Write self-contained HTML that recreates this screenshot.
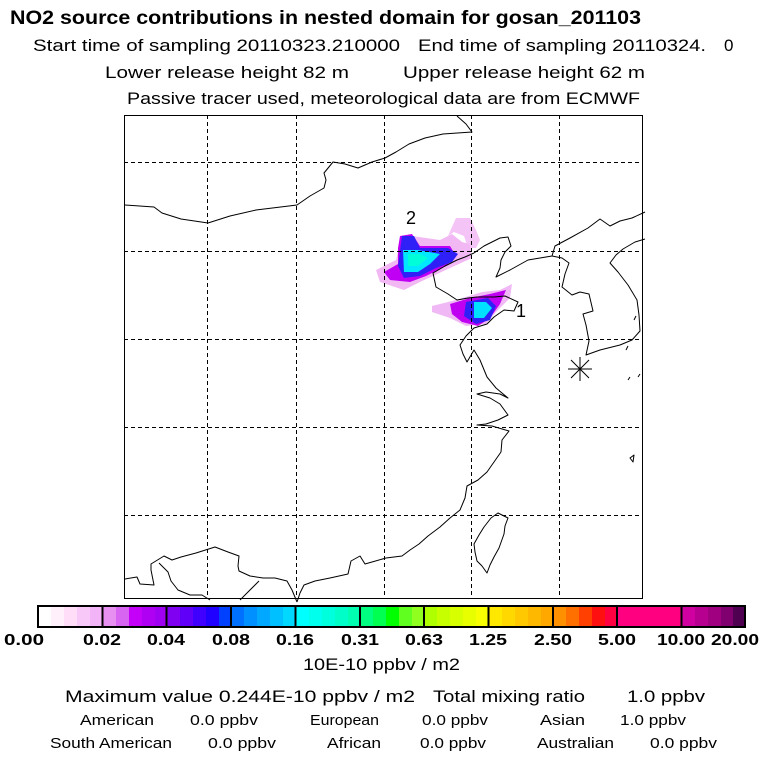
<!DOCTYPE html>
<html><head><meta charset="utf-8"><style>
html,body{margin:0;padding:0;background:#fff;}
svg{display:block;font-family:"Liberation Sans",sans-serif;}
</style></head><body>
<svg width="768" height="768" viewBox="0 0 768 768" xmlns="http://www.w3.org/2000/svg">
<rect width="768" height="768" fill="#fff"/>
<g fill="#000">
<text x="10" y="24" font-size="19" font-weight="bold" textLength="631" lengthAdjust="spacingAndGlyphs">NO2 source contributions in nested domain for gosan_201103</text>
<text x="33" y="51" font-size="17" textLength="367" lengthAdjust="spacingAndGlyphs">Start time of sampling 20110323.210000</text>
<text x="418" y="51" font-size="17" textLength="288" lengthAdjust="spacingAndGlyphs">End time of sampling 20110324.</text>
<text x="724" y="51" font-size="17">0</text>
<text x="105" y="78" font-size="17" textLength="244" lengthAdjust="spacingAndGlyphs">Lower release height   82 m</text>
<text x="403" y="78" font-size="17" textLength="242" lengthAdjust="spacingAndGlyphs">Upper release height   62 m</text>
<text x="127" y="104" font-size="17" textLength="513" lengthAdjust="spacingAndGlyphs">Passive tracer used, meteorological data are from ECMWF</text>
</g>

<!-- plumes -->
<g>
<polygon points="456,218 470,218 476,230 480,240 476,248 468,248 464,236 454,232 448,236" fill="#f4c4f6"/>
<polygon points="412,236 440,240 452,234 462,242 470,244 472,258 450,268 420,282 404,290 380,282 376,270 396,260 400,244" fill="#f2b8f4"/>
<polygon points="400,236 412,234 420,246 450,246 456,256 446,266 426,276 410,282 390,280 384,272 398,264 398,248" fill="#c000f4"/>
<polygon points="402,236 414,236 420,248 448,248 458,254 452,262 436,268 420,276 404,278 398,266" fill="#3020f8"/>
<polygon points="403,250 418,250 440,254 430,264 418,272 404,272" fill="#00e8ff"/>
<polygon points="408,254 420,254 428,258 418,266 408,266" fill="#00ffd8"/>
<polygon points="432,306 456,300 482,292 500,290 512,284 510,298 496,312 486,324 466,326 450,318 432,312" fill="#f0b8f4"/>
<polygon points="450,304 470,298 490,294 506,290 500,304 490,318 478,326 462,322 452,314" fill="#c000f0"/>
<polygon points="466,302 488,298 496,306 490,320 476,324 464,316" fill="#3020f8"/>
<polygon points="474,302 486,302 492,308 484,318 474,318" fill="#00e0ff"/>
</g>

<!-- grid -->
<g stroke="#000" stroke-width="1" stroke-dasharray="4,3" fill="none">
<path d="M207.5 115V598M296.5 115V598M384.5 115V598M471.5 115V598M559.5 115V598"/>
<path d="M124 162.5H642M124 251.5H642M124 339.5H642M124 427.5H642M124 515.5H642"/>
</g>

<!-- coastlines -->
<g stroke="#000" stroke-width="1" fill="none" stroke-linejoin="round">
<path d="M125,205 L154,207 L162,213 L181,219 L208,223 L230,216 L256,210 L297,205 L310,196 L324,188 L326,180 L324,173 L333,162 L345,164 L358,168 L372,162 L385,158 L396,152 L409,144 L425,138 L443,134 L472,132 L466,124 L457,116"/>
<path d="M474,253 L484,246 L494,241 L500,238 L508,237 L511,246 L505,252 L501,260 L500,268 L496,277 L510,270 L528,260 L552,256 L555,246 L570,238 L588,228 L600,219 L610,226 L620,221 L632,218 L645,212"/>
<path d="M552,256 L562,258 L569,263 L565,274 L562,287 L572,295 L580,292 L589,294 L593,311 L583,314 L586,325 L589,341 L586,355 L600,350 L620,345 L632,340 L640,331 L639,315 L637,300 L628,285 L618,272 L610,263 L616,255 L623,249 L635,242 L645,239"/>
<path d="M474,253 L465,257 L457,260 L445,266 L433,273 L436,287 L448,294 L457,300 L468,298 L477,297 L494,297 L505,296 L518,302 L514,311 L504,310 L494,317 L487,324 L474,328 L466,336 L460,345 L463,354 L467,362 L474,350 L480,360 L487,377 L496,388 L508,398 L500,394 L486,392 L477,394 L490,398 L500,404 L508,415 L498,420 L486,424 L477,425 L492,426 L509,431 L502,440 L501,452 L494,462 L487,472 L478,480 L467,486 L465,498 L460,510 L450,518 L440,527 L428,536 L419,544 L410,550 L402,556 L386,558 L372,562 L365,564 L360,556 L351,561 L348,574 L330,578 L315,581 L304,585 L300,593 L297,602"/>
<path d="M125,579 L137,577 L140,584 L154,585 L151,570 L151,564 L164,556 L172,560 L181,557 L196,553 L215,547 L228,552 L239,556 L238,566 L239,571 L250,576 L263,578 L275,578 L287,581 L292,590 L297,602"/>
<path d="M159,563 L168,572 L171,581 L178,590 L190,595 L202,595 L210,600"/>
<path d="M259,581 L248,592 L240,600"/>
<path d="M498,513 L508,518 L505,526 L504,534 L499,548 L494,557 L490,565 L487,573 L482,566 L477,561 L475,552 L474,544 L479,535 L484,527 L491,518 Z"/>
<path d="M630,458 L634,455 L633,462 Z M638,377 L640,374 M628,380 L630,377 M634,320 L636,316 M626,350 L628,346"/>
</g>
<g stroke="#000" stroke-width="1">
<path d="M568,369 L592,369 M580,357 L580,381 M571,360 L589,378 M571,378 L589,360"/>
</g>
<rect x="124.5" y="115.5" width="518" height="483" fill="none" stroke="#000" stroke-width="1"/>
<text x="406" y="224" font-size="18" fill="#000">2</text>
<text x="516" y="317" font-size="18" fill="#000">1</text>

<!-- colorbar -->
<g shape-rendering="crispEdges">
<rect x="38" y="606" width="13" height="21" fill="#ffffff"/><rect x="51" y="606" width="13" height="21" fill="#fff0fc"/><rect x="64" y="606" width="13" height="21" fill="#ffdcf8"/><rect x="77" y="606" width="13" height="21" fill="#f8c8f8"/><rect x="90" y="606" width="13" height="21" fill="#f2b4f6"/>
<rect x="103" y="606" width="13" height="21" fill="#e890f2"/><rect x="116" y="606" width="13" height="21" fill="#d864f2"/><rect x="129" y="606" width="13" height="21" fill="#c400f8"/><rect x="142" y="606" width="13" height="21" fill="#b000f4"/><rect x="155" y="606" width="12" height="21" fill="#a000f2"/>
<rect x="167" y="606" width="13" height="21" fill="#8000f2"/><rect x="180" y="606" width="13" height="21" fill="#6000f8"/><rect x="193" y="606" width="13" height="21" fill="#4000ff"/><rect x="206" y="606" width="13" height="21" fill="#2000ff"/><rect x="219" y="606" width="12" height="21" fill="#0040ff"/>
<rect x="231" y="606" width="13" height="21" fill="#0070ff"/><rect x="244" y="606" width="13" height="21" fill="#0090ff"/><rect x="257" y="606" width="13" height="21" fill="#00a8ff"/><rect x="270" y="606" width="13" height="21" fill="#00c0ff"/><rect x="283" y="606" width="13" height="21" fill="#00d8ff"/>
<rect x="296" y="606" width="13" height="21" fill="#00ffff"/><rect x="309" y="606" width="13" height="21" fill="#00ffec"/><rect x="322" y="606" width="13" height="21" fill="#00ffdc"/><rect x="335" y="606" width="13" height="21" fill="#00ffc8"/><rect x="348" y="606" width="12" height="21" fill="#00ffb0"/>
<rect x="360" y="606" width="13" height="21" fill="#00ff80"/><rect x="373" y="606" width="13" height="21" fill="#00ff50"/><rect x="386" y="606" width="13" height="21" fill="#00ff00"/><rect x="399" y="606" width="13" height="21" fill="#60ff20"/><rect x="412" y="606" width="12" height="21" fill="#90ff20"/>
<rect x="424" y="606" width="13" height="21" fill="#b0ff00"/><rect x="437" y="606" width="13" height="21" fill="#c8ff00"/><rect x="450" y="606" width="13" height="21" fill="#d8ff00"/><rect x="463" y="606" width="13" height="21" fill="#e8ff00"/><rect x="476" y="606" width="13" height="21" fill="#f8ff00"/>
<rect x="489" y="606" width="13" height="21" fill="#ffe800"/><rect x="502" y="606" width="13" height="21" fill="#ffd800"/><rect x="515" y="606" width="13" height="21" fill="#ffc800"/><rect x="528" y="606" width="13" height="21" fill="#ffb800"/><rect x="541" y="606" width="12" height="21" fill="#ffa800"/>
<rect x="553" y="606" width="13" height="21" fill="#ff9000"/><rect x="566" y="606" width="13" height="21" fill="#ff7000"/><rect x="579" y="606" width="13" height="21" fill="#ff4000"/><rect x="592" y="606" width="13" height="21" fill="#ff1010"/><rect x="605" y="606" width="12" height="21" fill="#ff0040"/>
<rect x="617" y="606" width="65" height="21" fill="#ff0080"/>
<rect x="682" y="606" width="13" height="21" fill="#d000a0"/><rect x="695" y="606" width="13" height="21" fill="#b80090"/><rect x="708" y="606" width="13" height="21" fill="#a00080"/><rect x="721" y="606" width="12" height="21" fill="#800070"/><rect x="733" y="606" width="12" height="21" fill="#500050"/>
</g>
<g stroke="#000" stroke-width="2" fill="none">
<rect x="38" y="606" width="707" height="21"/>
<path d="M102.5 606V627M166.5 606V627M231 606V627M295.5 606V627M360 606V627M424 606V627M488.5 606V627M553 606V627M617 606V627M681.5 606V627"/>
</g>
<g font-size="16" font-weight="bold" fill="#000" text-anchor="middle">
<text x="24" y="645" textLength="40" lengthAdjust="spacingAndGlyphs">0.00</text>
<text x="102" y="645" textLength="38" lengthAdjust="spacingAndGlyphs">0.02</text>
<text x="166" y="645" textLength="38" lengthAdjust="spacingAndGlyphs">0.04</text>
<text x="231" y="645" textLength="38" lengthAdjust="spacingAndGlyphs">0.08</text>
<text x="295" y="645" textLength="38" lengthAdjust="spacingAndGlyphs">0.16</text>
<text x="360" y="645" textLength="38" lengthAdjust="spacingAndGlyphs">0.31</text>
<text x="424" y="645" textLength="38" lengthAdjust="spacingAndGlyphs">0.63</text>
<text x="488" y="645" textLength="38" lengthAdjust="spacingAndGlyphs">1.25</text>
<text x="553" y="645" textLength="38" lengthAdjust="spacingAndGlyphs">2.50</text>
<text x="617" y="645" textLength="38" lengthAdjust="spacingAndGlyphs">5.00</text>
<text x="681" y="645" textLength="48" lengthAdjust="spacingAndGlyphs">10.00</text>
<text x="735" y="645" textLength="48" lengthAdjust="spacingAndGlyphs">20.00</text>
</g>
<g fill="#000">
<text x="303" y="670" font-size="17" textLength="157" lengthAdjust="spacingAndGlyphs">10E-10 ppbv / m2</text>
<text x="65" y="702" font-size="17" textLength="350" lengthAdjust="spacingAndGlyphs">Maximum value  0.244E-10 ppbv / m2</text>
<text x="433" y="702" font-size="17" textLength="152" lengthAdjust="spacingAndGlyphs">Total mixing ratio</text>
<text x="627" y="702" font-size="17" textLength="78" lengthAdjust="spacingAndGlyphs">1.0 ppbv</text>
<g font-size="15">
<text x="80" y="725" textLength="74" lengthAdjust="spacingAndGlyphs">American</text>
<text x="190" y="725" textLength="68" lengthAdjust="spacingAndGlyphs">0.0 ppbv</text>
<text x="310" y="725" textLength="69" lengthAdjust="spacingAndGlyphs">European</text>
<text x="422" y="725" textLength="66" lengthAdjust="spacingAndGlyphs">0.0 ppbv</text>
<text x="540" y="725" textLength="45" lengthAdjust="spacingAndGlyphs">Asian</text>
<text x="620" y="725" textLength="66" lengthAdjust="spacingAndGlyphs">1.0 ppbv</text>
<text x="50" y="748" textLength="122" lengthAdjust="spacingAndGlyphs">South American</text>
<text x="208" y="748" textLength="68" lengthAdjust="spacingAndGlyphs">0.0 ppbv</text>
<text x="327" y="748" textLength="54" lengthAdjust="spacingAndGlyphs">African</text>
<text x="420" y="748" textLength="66" lengthAdjust="spacingAndGlyphs">0.0 ppbv</text>
<text x="537" y="748" textLength="77" lengthAdjust="spacingAndGlyphs">Australian</text>
<text x="650" y="748" textLength="67" lengthAdjust="spacingAndGlyphs">0.0 ppbv</text>
</g>
</g>
</svg>
</body></html>
